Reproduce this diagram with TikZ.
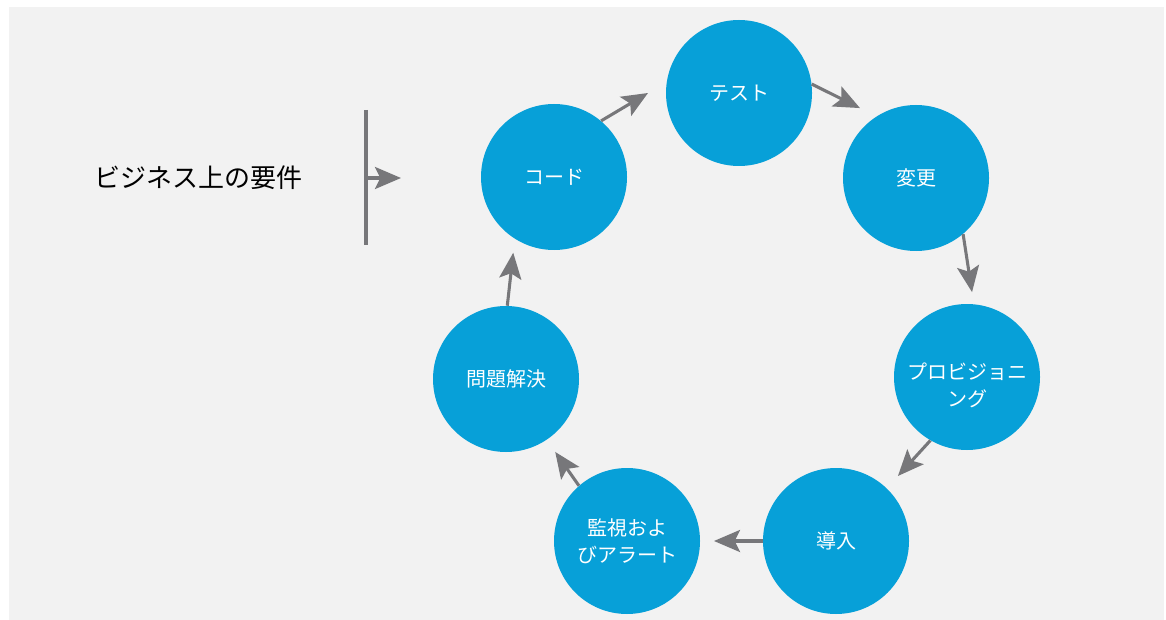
\documentclass[tikz,border=0pt]{standalone}
\usepackage{fontspec}
\setmainfont{Noto Sans CJK JP}
\usetikzlibrary{arrows.meta,calc}
\definecolor{bgc}{RGB}{242,242,242}
\definecolor{bluec}{RGB}{7,160,216}
\definecolor{arrc}{RGB}{119,119,122}
\tikzset{
  stepnode/.style={circle, fill=bluec, draw=none, minimum size=109.5pt, inner sep=0pt,
    text=white, font=\fontsize{15}{20}\selectfont, align=center},
  arr/.style={draw=arrc, line width=2.3pt, -{Stealth[length=19.5pt,width=16.5pt,inset=4pt]}},
  plain/.style={draw=arrc, line width=2.3pt}
}
\begin{document}
\begin{tikzpicture}[x=0.75pt,y=0.75pt]
\useasboundingbox (0,0) rectangle (1166,-620);
\fill[bgc] (9,-7) rectangle (1164,-620);
\node[stepnode] (test) at (739,-93) {テスト};
\node[stepnode] (henko) at (916,-178) {変更};
\node[stepnode] (prov) at (967,-377) {\rule{0pt}{25pt}プロビジョニ\\ング};
\node[stepnode] (dony) at (836,-541) {導入};
\node[stepnode] (kanshi) at (627,-541) {監視およ\\びアラート};
\node[stepnode] (mondai) at (506,-379) {問題解決};
\node[stepnode] (kod) at (554,-177) {コード};
\node[font=\fontsize{19.5}{24}\selectfont, text=black] (req) at (198,-178) {ビジネス上の要件};
\coordinate (barTop) at (366,-110);
\coordinate (barBot) at (366,-245);
\coordinate (barMid) at (366,-178);
\coordinate (barTip) at (401,-178);
\draw[plain] (barTop) -- (barBot);
\draw[arr] (barMid) -- (barTip);
\draw[arr] (kod.50.5) -- ($(test.center)+(180:91)$);
\draw[arr] (test.7) -- ($(henko.center)+(128.7:89.6)$);
\draw[arr] (henko.-50.5) -- ($(prov.center)+(86.6:85)$);
\draw[arr] (prov.-120) -- ($(dony.center)+(46.4:89.8)$);
\draw[arr] (dony.180) -- ($(kanshi.center)+(0:87)$);
\draw[arr] (kanshi.131.6) -- ($(mondai.center)+(-56:88)$);
\draw[arr] (mondai.89) -- ($(kod.center)+(-118.3:86)$);
\end{tikzpicture}
\end{document}
